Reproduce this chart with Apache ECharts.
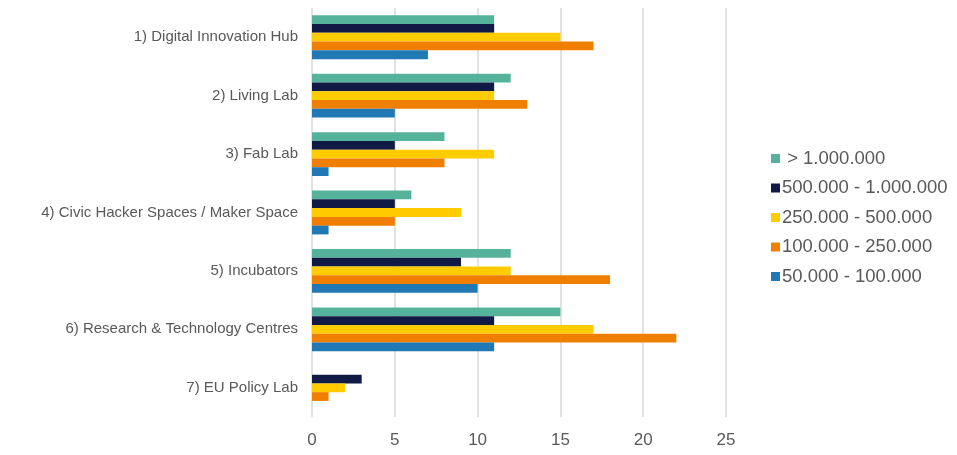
<!DOCTYPE html>
<html>
<head>
<meta charset="utf-8">
<script src="https://cdn.jsdelivr.net/npm/echarts@6/dist/echarts.min.js"></script>
<style>
  html, body { margin: 0; padding: 0; background: #fff; }
  #chart { width: 957px; height: 455px; }
</style>
</head>
<body>
<div id="chart"></div>
<script>
// categories (top to bottom)
var categories = [
    '1) Digital Innovation Hub',
    '2) Living Lab',
    '3) Fab Lab',
    '4) Civic Hacker Spaces / Maker Space',
    '5) Incubators',
    '6) Research & Technology Centres',
    '7) EU Policy Lab'
];

// series names (legend order)
var seriesNames = [' > 1.000.000', '500.000 - 1.000.000', '250.000 - 500.000', '100.000 - 250.000', '50.000 - 100.000'];
var seriesColors = ['#55b39c', '#111945', '#ffcc00', '#f07f00', '#2078b4'];

// values per series, one per category
var over1M      = [11, 12, 8, 6, 12, 15, 0];
var from500k    = [11, 11, 5, 5, 9, 11, 3];
var from250k    = [15, 11, 11, 9, 12, 17, 2];
var from100k    = [17, 13, 8, 5, 18, 22, 1];
var from50k     = [7, 5, 1, 1, 10, 11, 0];

var seriesValues = [over1M, from500k, from250k, from100k, from50k];

var chart = echarts.init(document.getElementById('chart'));

var series = seriesValues.map(function (vals, i) {
    return {
        name: seriesNames[i],
        type: 'bar',
        data: vals,
        barGap: '0%',
        barCategoryGap: '25%',
        itemStyle: { color: seriesColors[i] }
    };
});

var option = {
    animation: false,
    textStyle: { fontFamily: 'Liberation Sans, Arial, sans-serif' },
    grid: { left: 312, right: 231, top: 8, bottom: 38, containLabel: false },
    legend: {
        orient: 'vertical',
        left: 766,
        top: 144,
        itemWidth: 9,
        itemHeight: 9,
        itemGap: 10.5,
        icon: 'rect',
        textStyle: { fontSize: 18.5, color: '#595959', padding: [0, 0, 0, -3] },
        data: seriesNames
    },
    xAxis: {
        type: 'value',
        min: 0,
        max: 25,
        interval: 5,
        axisLine: { show: false },
        axisTick: { show: false },
        axisLabel: { fontSize: 17, color: '#595959', margin: 15 },
        splitLine: { lineStyle: { color: '#d9d9d9', width: 1.5 } }
    },
    yAxis: {
        type: 'category',
        inverse: true,
        data: categories,
        axisLine: { show: false },
        axisTick: { show: false },
        axisLabel: { fontSize: 15, color: '#595959', margin: 14 }
    },
    series: series
};

chart.setOption(option);
</script>
</body>
</html>
